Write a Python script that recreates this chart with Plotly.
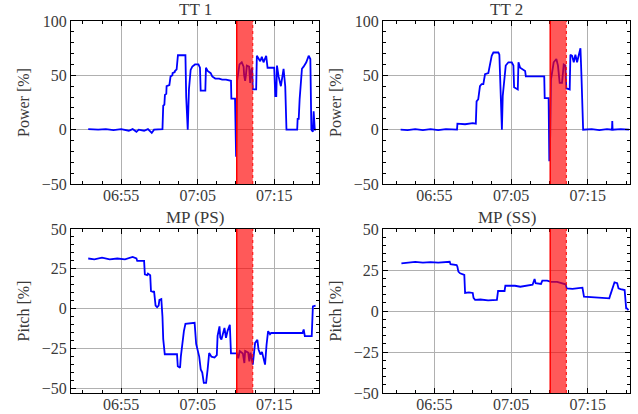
import pandas as pd
import plotly.graph_objects as go

# ---- data (time in minutes after 06:50, value in %) ----
BASE = "2023-01-01 06:50:00"

tt1_t = [0.7, 2, 3, 4, 5, 6, 6.5, 7, 7.3, 8, 8.5, 9, 9.3, 10, 10.4,
         10.5, 10.65, 10.72, 10.9, 10.94, 11.3, 11.46, 11.7, 11.72, 12.0, 12.03, 12.25, 12.42, 13.4, 13.5,
         13.62, 13.7, 13.86, 14.08, 14.3, 14.65, 15.1, 15.3, 15.39, 16.0, 16.08, 16.3, 16.7, 16.9, 17.3,
         17.8, 18.2, 18.7, 19.35, 19.4, 19.88, 19.95, 20.02, 20.15, 20.3, 20.46, 20.76, 21.0, 21.07, 21.2,
         21.3, 21.42, 21.72, 21.86, 22.0, 22.12, 22.2, 22.64, 22.73, 22.95, 23.17, 23.38, 23.6, 23.95, 24.13,
         25.0, 25.14, 25.27, 25.36, 25.57, 25.87, 26.22, 26.44, 26.6, 28.0, 28.06, 28.2, 28.32, 28.62, 28.84,
         29.19, 29.5, 29.72, 29.85, 30.05, 30.15, 30.3, 30.46]
tt1_v = [0.5, 0, 0.5, -0.5, 0.5, -1, 0.5, -2, 0, -1, 0.5, -3, 0, 0.5, 0.5,
         22, 23, 32, 33, 40, 41, 49, 50, 52, 53, 54, 55.5, 68.5, 68.5, 30,
         0, 0, 37, 55, 58, 60, 60, 57, 36, 36, 57, 54, 52, 49, 47,
         47, 46, 46, 45, 28.5, 28.5, -25, -25, 45, 52, 60, 62, 58, 50, 45,
         50, 59, 58, 43, 55, 57, 37, 37, 68, 66, 63, 67, 62, 68, 57,
         57, 31, 31, 59, 49, 40, 56, 40, 0, 0, 10, 10, 28, 56, 58,
         62, 68, 65, 0, -2, 17, 0, 0]

tt2_t = [0.6, 1.5, 2.5, 3.5, 4.5, 5.5, 6.5, 7.5, 7.95, 8.0, 9, 10, 10.4, 10.5, 10.72, 10.94, 11.16,
         11.38, 11.6, 12.03, 12.25, 12.47, 12.69, 13.34, 13.47, 13.6, 13.73, 13.8, 13.91, 14.08, 14.3,
         14.65, 15.09, 15.3, 15.39, 15.87, 15.96, 16.18, 16.53, 16.83, 16.92, 19.32, 19.38, 19.89, 19.98,
         20.1, 20.2, 20.55, 20.9, 21.11, 21.33, 21.64, 21.86, 22.07, 22.2, 22.64, 22.73, 22.95, 23.17,
         23.38, 23.6, 23.82, 24.04, 24.17, 24.39, 25.5, 26.5, 27.5, 28.15, 28.19, 28.23, 29.3, 30.37]
tt2_v = [0, -0.5, 0.5, -0.5, 0.5, -0.5, 0.5, 0, 0, 5.5, 5, 6, 5.5, 26, 28, 40, 42,
         42, 51, 52, 59, 68, 71, 71, 69, 40, 0, 0, 31, 46, 59,
         62, 62, 59, 39, 37, 62, 57, 55.5, 54, 49, 49, 29, 29, -29,
         -5, 46, 62, 65, 59, 43, 43, 60, 59, 38, 37, 69, 68, 62,
         69, 62, 68, 75, 50, 0, 0.5, -0.5, 0.5, 0, 8, 0, 0.5, 0]

ps_t = [0.7, 1.5, 2.5, 3.5, 4.5, 5.5, 6.5, 7.0, 7.1, 8.0, 8.1, 8.4, 8.5, 8.8, 8.9, 9.2, 9.3, 9.5,
        9.7, 9.9, 10.0, 10.25, 10.4, 10.5, 10.7, 12.3, 12.4, 12.7, 12.8, 13.0, 13.2, 13.4, 14.6, 14.8,
        15.2, 15.4, 15.6, 15.8, 16.1, 16.3, 16.5, 16.8, 17.2, 17.5, 17.6, 17.85, 17.95, 18.1, 18.3, 18.5,
        18.7, 18.9, 19.2, 19.35, 20.1, 20.3, 20.5, 20.9, 21.1, 21.2, 21.6, 21.75, 21.9, 22.2, 22.5, 22.8,
        22.95, 23.2, 23.4, 23.8, 24.0, 24.2, 24.45, 24.6, 28.7, 28.85, 29.0, 29.9, 30.05, 30.4]
ps_v = [31.5, 31, 32, 31, 31.5, 31, 32.5, 31.5, 30, 30, 21.5, 21, 22, 21, 11, 10.5, 11, 2,
        1, 2, 5.5, 6, -5, -19, -28.5, -28.5, -36, -37, -30, -20, -14, -9.5, -8.8, -22,
        -30, -38, -40, -46.5, -46.5, -38, -27.7, -30, -30.6, -29, -17, -11, -18, -19.3, -16, -12,
        -18.2, -14, -10, -28, -28, -31, -26.5, -28, -34, -26.5, -27.5, -33, -27.5, -35, -21.4, -19.5,
        -25.5, -28.7, -27, -35, -22.4, -14, -16, -15.2, -15.2, -13, -17.2, -17.2, 1.5, 2]

ss_t = [0.7, 1.5, 2.5, 3.5, 4.5, 5.5, 6.5, 7.0, 7.1, 7.9, 8.0, 8.13, 8.35, 8.9, 9.0, 9.5, 10.0,
        10.1, 10.3, 11, 12, 13.15, 13.3, 14.15, 14.25, 15.5, 16.2, 17.0, 17.8, 18.06, 18.2, 18.9,
        19.07, 19.7, 20.2, 21.0, 21.8, 22.1, 22.25, 23.0, 23.8, 24.3, 24.5, 25.5, 26.5, 27.8, 27.95,
        28.26, 28.48, 28.83, 29.0, 29.27, 29.8, 30.0, 30.1, 30.3]
ss_v = [29, 29.5, 30, 29.5, 29.8, 29.5, 30, 30, 28.5, 28, 27, 24, 23, 22, 11, 11.4, 11,
        8, 6.8, 7, 6.5, 6.8, 12.2, 12.2, 15.4, 15.4, 14.8, 15.5, 16, 19.5, 17, 16.5,
        18.5, 18.5, 17.8, 17.8, 17, 16.3, 13.8, 13.5, 14, 14.2, 8.7, 8.5, 8, 7.7, 10,
        13.8, 17.5, 17, 13.8, 13.4, 12.8, 1.6, 1.6, 0.6]

titles = ["TT 1", "TT 2", "MP (PS)", "MP (SS)"]
ylabels = ["Power [%]", "Power [%]", "Pitch [%]", "Pitch [%]"]
event_start = 20.1   # minutes after 06:50
event_end = 22.2

# ---- layout helpers ----
W, H = 638, 414
FONT = "Liberation Serif"
TXT = "#3a3a3a"


def ts(mins):
    return pd.Timestamp(BASE) + pd.to_timedelta(pd.Series(mins, dtype=float), unit="min")


def px_x(a, b):
    return [a / W, b / W]


def px_y(top, bot):
    return [1 - bot / H, 1 - top / H]


panels = [
    dict(t=tt1_t, v=tt1_v, xd=px_x(71, 319), yd=px_y(21, 184), yr=[-50, 100], ydt=50, ymin=10,
         xr=[-1.55, 30.85]),
    dict(t=tt2_t, v=tt2_v, xd=px_x(383, 630), yd=px_y(21, 184), yr=[-50, 100], ydt=50, ymin=10,
         xr=[-1.7, 30.5]),
    dict(t=ps_t, v=ps_v, xd=px_x(71, 319), yd=px_y(229, 393), yr=[-52.8, 50], ydt=25, ymin=5,
         xr=[-1.55, 30.85]),
    dict(t=ss_t, v=ss_v, xd=px_x(383, 630), yd=px_y(229, 393), yr=[-50, 50], ydt=25, ymin=5,
         xr=[-1.7, 30.5]),
]

fig = go.Figure()
annotations = []
shapes = []
for i, p in enumerate(panels):
    n = "" if i == 0 else str(i + 1)
    xa, ya = "x" + n, "y" + n
    fig.add_trace(go.Scatter(x=ts(p["t"]), y=p["v"], mode="lines",
                             line=dict(color="#0000ff", width=1.8),
                             xaxis=xa, yaxis=ya, showlegend=False, hoverinfo="skip"))
    xr = ts(p["xr"])
    axis_common = dict(showline=True, linecolor="black", linewidth=1, mirror="allticks",
                       ticks="inside", ticklen=5, tickwidth=1, tickcolor="black",
                       showgrid=True, gridcolor="#b0b0b0", gridwidth=1, zeroline=False,
                       automargin=False,
                       tickfont=dict(family=FONT, size=16, color=TXT))
    fig.update_layout(**{
        ("xaxis" + n): dict(domain=p["xd"], anchor=ya, type="date",
                            range=[xr.iloc[0], xr.iloc[1]],
                            tick0="2023-01-01 06:55", dtick=600000, tickformat="%H:%M",
                            minor=dict(ticks="inside", ticklen=3, tickcolor="black",
                                       dtick=150000, showgrid=False),
                            **axis_common),
        ("yaxis" + n): dict(domain=p["yd"], anchor=xa, range=p["yr"], tick0=0, dtick=p["ydt"],
                            minor=dict(ticks="inside", ticklen=3, tickcolor="black",
                                       dtick=p["ymin"], showgrid=False),
                            title=dict(text=ylabels[i], font=dict(family=FONT, size=16, color=TXT),
                                       standoff=8),
                            **axis_common),
    })
    annotations.append(dict(text=titles[i], xref="paper", yref="paper",
                            x=(p["xd"][0] + p["xd"][1]) / 2, y=p["yd"][1],
                            xanchor="center", yanchor="bottom", showarrow=False,
                            font=dict(family=FONT, size=17, color=TXT)))
    es, ee = ts([event_start, event_end])
    shapes.append(dict(type="rect", xref=xa, yref="paper", x0=es, x1=ee,
                       y0=p["yd"][0], y1=p["yd"][1], fillcolor="rgba(255,0,0,0.65)",
                       line=dict(width=0), layer="above"))
    shapes.append(dict(type="line", xref=xa, yref="paper", x0=es, x1=es,
                       y0=p["yd"][0], y1=p["yd"][1], line=dict(color="red", width=1.5),
                       layer="above"))
    shapes.append(dict(type="line", xref=xa, yref="paper", x0=ee, x1=ee,
                       y0=p["yd"][0], y1=p["yd"][1], line=dict(color="red", width=1, dash="dot"),
                       layer="above"))

fig.update_layout(width=W, height=H, margin=dict(l=0, r=0, t=0, b=0),
                  paper_bgcolor="white", plot_bgcolor="white",
                  annotations=annotations, shapes=shapes, hovermode=False,
                  font=dict(family=FONT, color=TXT))
try:
    fig.update_xaxes(ticklabelstandoff=-3)
except Exception:
    pass
fig.write_html("out.html", config={"displayModeBar": False},
               post_script="document.body.style.margin='0px';document.body.style.padding='0px';")
